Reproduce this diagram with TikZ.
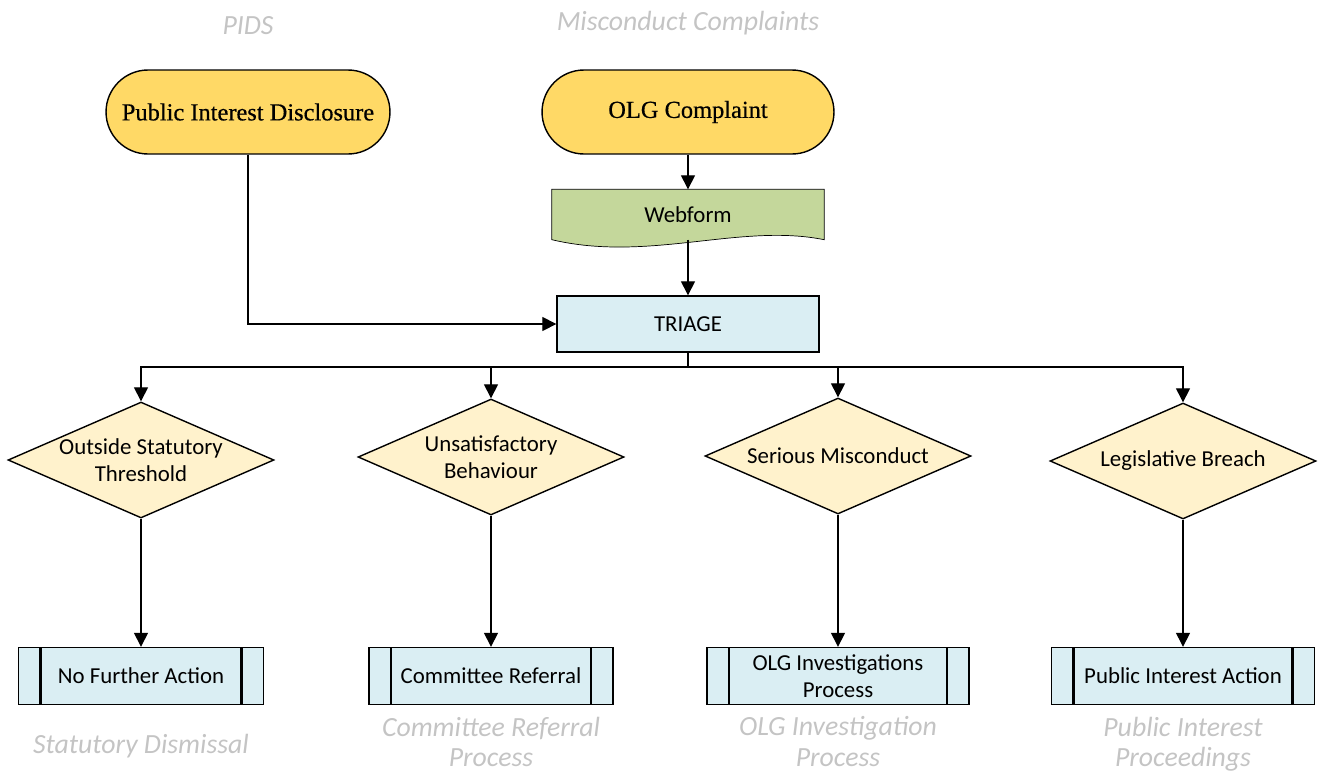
\documentclass[tikz,border=0pt]{standalone}
\usepackage{fontspec}
\setmainfont{Carlito}
\newfontfamily\termfont[FakeBold=0.5]{Liberation Serif}
\usepackage{xcolor}
\usetikzlibrary{arrows.meta, positioning, shapes.geometric, calc, backgrounds}

\definecolor{termyellow}{RGB}{255,217,102}
\definecolor{webgreen}{RGB}{196,215,155}
\definecolor{procblue}{RGB}{218,238,243}
\definecolor{decisyellow}{RGB}{255,242,204}
\definecolor{labelgrey}{RGB}{196,196,196}

\begin{document}
\begin{tikzpicture}[
    x=0.02cm, y=-0.02cm,
    >={Triangle[width=8pt,length=8pt]},
    line width=0.8pt,
    every node/.style={font=\fontsize{13}{15.5}\selectfont},
    term/.style={draw, rounded corners=0.84cm, fill=termyellow, minimum height=1.68cm,
                 font=\termfont\fontsize{13.9}{16}\selectfont},
    docbox/.style={minimum width=5.42cm, minimum height=0.98cm, inner sep=0pt},
    triagebox/.style={draw, fill=procblue, minimum width=5.24cm, minimum height=1.12cm},
    decision/.style={draw, diamond, fill=decisyellow, aspect=2.3, inner sep=0pt, inner xsep=-3pt,
                     minimum width=5.32cm, minimum height=2.32cm, align=center},
    proc/.style={draw, fill=procblue, minimum height=1.14cm, inner ysep=1pt, align=center,
        path picture={
            \draw[line width=1.2pt] ([xshift=0.44cm]path picture bounding box.north west)
                -- ([xshift=0.44cm]path picture bounding box.south west);
            \draw[line width=1.2pt] ([xshift=-0.44cm]path picture bounding box.north east)
                -- ([xshift=-0.44cm]path picture bounding box.south east);
        }},
    tag/.style={text=labelgrey, align=center, font=\itshape\fontsize{15.8}{17.6}\selectfont},
]
    \useasboundingbox (0,0) rectangle (1321,771);

    % Entry points
    \node[term, minimum width=5.68cm] (pid) at (248,112) {Public Interest Disclosure};
    \node[term, minimum width=5.84cm] (olg) at (688,112) {OLG Complaint};
    \node[docbox] (web) at (688,214.5) {Webform};
    \node[triagebox] (triage) at (688,324) {TRIAGE};

    % Webform outline (document shape)
    \begin{scope}[on background layer]
        \draw[fill=webgreen] (web.north west) -- (web.north east) -- (web.south east)
            .. controls +(-84,-17) and +(97,23) .. (web.south west) -- cycle;
    \end{scope}

    % Decisions
    \node[decision] (d1) at (141,460)  {Outside Statutory\\Threshold};
    \node[decision] (d2) at (491,457)  {Unsatisfactory\\Behaviour};
    \node[decision] (d3) at (838,456)  {Serious Misconduct};
    \node[decision] (d4) at (1183,461) {Legislative Breach};

    % Outcomes
    \node[proc, minimum width=4.9cm]  (p1) at (141,676)  {No Further Action};
    \node[proc, minimum width=4.88cm] (p2) at (491,676)  {Committee Referral};
    \node[proc, minimum width=5.24cm] (p3) at (838,676)  {OLG Investigations\\Process};
    \node[proc, minimum width=5.26cm] (p4) at (1183,676) {Public Interest Action};

    % Flow
    \draw[->] (pid.south) |- (triage.west);
    \draw[->] (olg.south) -- (web.north);
    \draw[->] (web.south) -- (triage.north);
    \coordinate (split) at (688,367);
    \draw (triage.south) -- (split);
    \foreach \d in {d1,d2,d3,d4}
        \draw[->] (split) -| (\d.north);
    \foreach \d/\p in {d1/p1,d2/p2,d3/p3,d4/p4}
        \draw[->] (\d.south) -- (\p.north);

    % Labels
    \node[tag, above=0.56cm of pid] {PIDS};
    \node[tag, above=0.56cm of olg] {Misconduct Complaints};
    \node[tag, below=0.44cm of p1] {Statutory Dismissal};
    \node[tag, below=0.1cm of p2] {Committee Referral\\Process};
    \node[tag, below=0.1cm of p3] {OLG Investigation\\Process};
    \node[tag, below=0.1cm of p4] {Public Interest\\Proceedings};
\end{tikzpicture}
\end{document}
